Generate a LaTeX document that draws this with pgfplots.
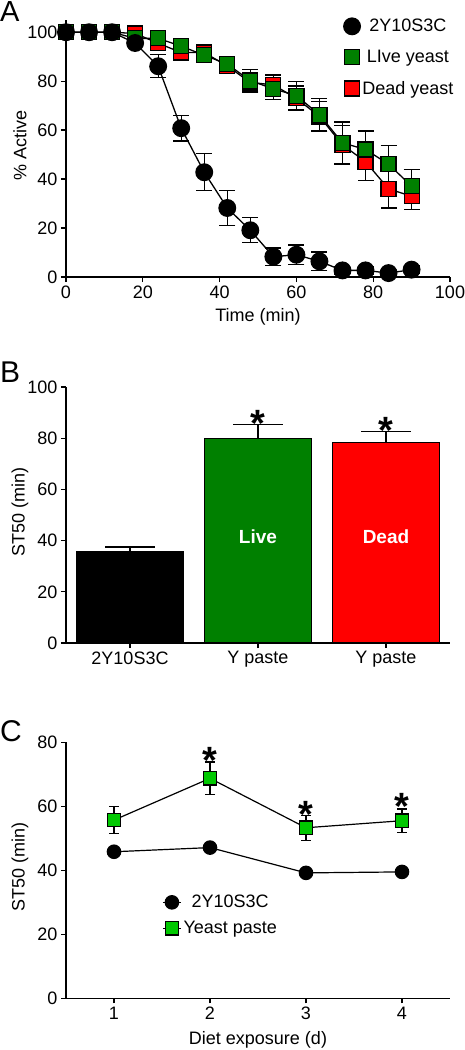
\documentclass[border=0pt]{standalone}
\usepackage{pgfplots}
\usepackage{pgfplotstable}
\pgfplotsset{compat=1.18}
\usepackage{fontspec}
\setmainfont{Liberation Sans}
\definecolor{dgreen}{RGB}{0,128,0}
\definecolor{lgreen}{RGB}{0,200,0}
\definecolor{pred}{RGB}{255,0,0}

\pgfplotstableread{
t m e
0 100 0
6 100 0
12 100 0
18 95.6 1.5
24 86.1 4.7
30 60.8 5.2
36 42.8 7.6
42 28.2 7.1
48 19.1 5.1
54 8.3 3.5
60 9.1 4.0
66 6.4 3.8
72 2.7 1.5
78 2.7 1.5
84 1.6 1.2
90 3.0 1.5
}\blackdata
\pgfplotstableread{
t m e
0 100 0
6 100 0
12 100 0
18 97.5 1.5
24 97.5 2
30 94.3 2.5
36 90.6 2.5
42 87.0 3
48 80.2 4.5
54 76.9 4.5
60 74.1 5.8
66 66.3 6.6
72 54.8 8.5
78 52.1 7.5
84 46.1 7.7
90 37.1 6.7
}\livedata
\pgfplotstableread{
t m e
0 100 0
6 100 0
12 100 0
18 99.5 1
24 95.5 2
30 91.7 2.5
36 91.7 2.5
42 86.2 3
48 79.5 4
54 78.5 4
60 73 5
66 65.6 6
72 54 8
78 47.1 7.8
84 36 7.8
90 33 5.4
}\deaddata
\pgfplotstableread{
d m lo hi
1 55.7 4.3 4.3
2 68.75 5.1 5.1
3 53.3 3.9 3.9
4 55.5 3.7 3.7
}\yeastdata
\pgfplotstableread{
d m
1 45.8
2 47.1
3 39.2
4 39.5
}\ctrldata

\pgfplotsset{
  myaxis/.style={
    scale only axis,
    width=384pt,
    anchor=south west,
    axis x line*=bottom, axis y line*=left,
    axis line style={line width=1.3pt, black, -},
    tick align=outside,
    major tick length=5pt,
    every tick/.style={line width=1.3pt, black},
    tick label style={font=\fontsize{18}{20}\selectfont},
    label style={font=\fontsize{18}{20}\selectfont},
    /pgf/number format/assume math mode=true,
    clip=false,
    error bars/error bar style={line width=1.3pt, black},
  },
}

\begin{document}
\begin{tikzpicture}
\path[use as bounding box] (0pt,0pt) rectangle (465pt,-1050pt);

% Panel letters
\node[anchor=base west, inner sep=0pt, font=\fontsize{29}{30}\selectfont] at (0pt,-21.7pt) {A};
\node[anchor=base west, inner sep=0pt, font=\fontsize{30}{30}\selectfont] at (0pt,-382.7pt) {B};
\node[anchor=base west, inner sep=0pt, font=\fontsize{30}{30}\selectfont] at (0pt,-741.7pt) {C};

% ---------------- Panel A ----------------
\begin{axis}[myaxis, at={(66pt,-277pt)}, height=257pt,
  xmin=0, xmax=100, ymin=0, ymax=105,
  xtick={0,20,...,100}, ytick={0,20,...,100},
  xlabel={Time (min)}, ylabel={\% Active},
  ylabel style={at={(axis description cs:-0.12,0.51)}, anchor=center},
  xlabel style={at={(axis description cs:0.5,-0.156)}, anchor=center},
  reverse legend,
  legend style={draw=none, fill=none, at={(axis cs:71.5,107)}, anchor=north west,
    font=\fontsize{18}{20}\selectfont, row sep=13pt},
  legend image code/.code={\draw[#1,only marks] plot coordinates {(0pt,0pt)};},
  error bars/y dir=both, error bars/y explicit,
  error bars/error mark options={rotate=90, mark size=8pt, line width=1.3pt, black},
]
\addplot[black, line width=1.3pt, mark=square*, mark size=7.5pt,
  mark options={fill=pred, draw=black, line width=1.2pt}]
  table[x=t, y=m, y error=e]{\deaddata};
\addlegendentry{Dead yeast}
\addplot[black, line width=1.3pt, mark=square*, mark size=7.5pt,
  mark options={fill=dgreen, draw=black, line width=1.2pt}]
  table[x=t, y=m, y error=e]{\livedata};
\addlegendentry{LIve yeast}
\addplot[black, line width=1.3pt, mark=*, mark size=8.3pt,
  mark options={fill=black, draw=black}]
  table[x=t, y=m, y error=e]{\blackdata};
\addlegendentry{2Y10S3C}
\end{axis}

% ---------------- Panel B ----------------
\begin{axis}[myaxis, at={(66pt,-643pt)}, height=256pt,
  xmin=-0.5, xmax=2.5, ymin=0, ymax=100,
  xtick={0,1,2}, xticklabels={2Y10S3C,Y paste,Y paste}, ytick={0,20,...,100},
  ylabel={ST50 (min)},
  ylabel style={at={(axis description cs:-0.12,0.51)}, anchor=center},
  ybar, bar width=107pt, bar shift=0pt,
  error bars/y dir=plus, error bars/y explicit,
  error bars/error mark options={rotate=90, mark size=25pt, line width=1.3pt, black},
]
\addplot[fill=black, draw=black, line width=1.3pt] coordinates {(0,35.5) +- (0,2.0)};
\addplot[fill=dgreen, draw=black, line width=1.3pt] coordinates {(1,80.0) +- (0,5.3)};
\addplot[fill=pred, draw=black, line width=1.3pt] coordinates {(2,78.4) +- (0,4.3)};
\node[text=white, font=\bfseries\fontsize{19}{20}\selectfont] at (axis cs:1,41.4) {Live};
\node[text=white, font=\bfseries\fontsize{19}{20}\selectfont] at (axis cs:2,41.4) {Dead};
\node[anchor=north, inner sep=0pt, font=\bfseries\fontsize{38}{38}\selectfont] at (axis cs:1,90.8) {*};
\node[anchor=north, inner sep=0pt, font=\bfseries\fontsize{38}{38}\selectfont] at (axis cs:2,88.3) {*};
\end{axis}

% ---------------- Panel C ----------------
\begin{axis}[myaxis, at={(66pt,-998.3pt)}, height=256pt,
  xmin=0.5, xmax=4.5, ymin=0, ymax=80,
  xtick={1,2,3,4}, ytick={0,20,...,80},
  xlabel={Diet exposure (d)}, ylabel={ST50 (min)},
  ylabel style={at={(axis description cs:-0.12,0.513)}, anchor=center},
  xlabel style={at={(axis description cs:0.5,-0.163)}, anchor=center},
  legend style={draw=none, fill=none, at={(axis cs:1.47,33.5)}, anchor=north west,
    font=\fontsize{18}{20}\selectfont, row sep=8pt},
  legend image code/.code={\draw[mark repeat=2,mark phase=2,#1] plot coordinates {(-9pt,0pt) (0pt,0pt) (9pt,0pt)};},
  error bars/y dir=both, error bars/y explicit,
  error bars/error mark options={rotate=90, mark size=5pt, line width=1.3pt, black},
]
\addplot[black, line width=1.2pt, mark=*, mark size=6.7pt,
  mark options={fill=black, draw=black}]
  table[x=d, y=m]{\ctrldata};
\addlegendentry{2Y10S3C}
\addplot[black, line width=1.2pt, mark=square*, mark size=6.7pt,
  mark options={fill=lgreen, draw=black, line width=1.2pt}]
  table[x=d, y=m, y error=hi]{\yeastdata};
\addlegendentry{Yeast paste}
\node[anchor=north, inner sep=0pt, font=\bfseries\fontsize{38}{38}\selectfont] at (axis cs:2,78.6) {*};
\node[anchor=north, inner sep=0pt, font=\bfseries\fontsize{38}{38}\selectfont] at (axis cs:3,61.6) {*};
\node[anchor=north, inner sep=0pt, font=\bfseries\fontsize{38}{38}\selectfont] at (axis cs:4,64.0) {*};
\end{axis}
\end{tikzpicture}
\end{document}
